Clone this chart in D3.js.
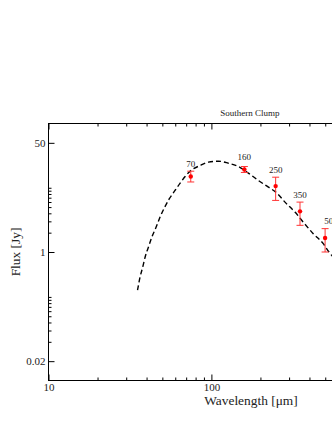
<!DOCTYPE html>
<meta charset="utf-8">
<style>

body {
  margin: 0;
  background: #fff;
}

svg {
  display: block;
  font-family: "Liberation Serif", "DejaVu Serif", serif;
}

svg text {
  fill: #222;
}

.model {
  fill: none;
  stroke: #000;
  stroke-width: 1.4px;
  stroke-dasharray: 5,3;
}

.errbar line {
  stroke: #f33;
  stroke-width: 1px;
}

</style>
<svg width="332" height="430"></svg>
<script src="https://d3js.org/d3.v7.min.js"></script>
<script>

// photometry (Jy)
var bands = [70, 160, 250, 350, 500];
var bandWavelength = [74.7, 159.4, 248, 350, 499];
var bandFlux = [15.0, 19.2, 10.6, 4.29, 1.65];
var fluxHigh = [18.1, 21.4, 14.6, 5.98, 2.31];
var fluxLow = [12.3, 17.3, 6.35, 2.6, 1.0];

// dashed greybody fit, sampled along the drawn curve
var modelWavelength = [35.2, 36.5, 37.9, 39.2, 41.1, 43.1, 45.8, 48.4, 51.5, 55.2, 59.8, 64.3, 69.0, 74.0, 85.3, 95.9, 110.4, 127, 146.5, 168.7, 194, 224, 252, 283, 326, 366, 422, 486, 527, 580];
var modelFlux = [0.254, 0.409, 0.585, 0.836, 1.20, 1.71, 2.44, 3.50, 4.89, 6.75, 9.08, 11.8, 15.0, 18.1, 22.2, 25.0, 25.9, 24.1, 21.4, 16.9, 13.0, 10.2, 8.3, 5.97, 4.18, 2.92, 1.93, 1.35, 1.0, 0.75];

// axis ticks
var xMajorTicks = [10, 100, 1000];
var xMinorTicks = [20, 30, 40, 50, 60, 70, 80, 90, 200, 300, 400, 500, 600, 700, 800, 900, 2000, 3000];
var yMajorTicks = [0.02, 1, 50];
var yMinorTicks = [0.04, 0.06, 0.08, 0.1, 0.12, 0.14, 0.16, 0.18, 0.2, 2, 3, 4, 5, 6, 7, 8, 9, 10];

var svg = d3.select("svg"),
    width = +svg.attr("width"),
    plotLeft = 48.5,
    plotRight = 452,
    plotTop = 123.5,
    plotBottom = 380.5;

var x = d3.scaleLog()
    .domain([10, 3000])
    .range([plotLeft, plotRight]);

var y = d3.scaleLog()
    .domain([0.01, 100])
    .range([plotBottom, plotTop]);

// only label ticks that fall inside the visible window
var fmtX = function(d) { return x(d) < width ? String(d) : ""; };
var fmtY = function(d) { return String(d); };

// minor ticks
svg.append("g")
    .attr("transform", "translate(0," + plotBottom + ")")
    .call(d3.axisBottom(x).tickValues(xMinorTicks).tickSize(-3).tickSizeOuter(0).tickFormat(""));
svg.append("g")
    .attr("transform", "translate(0," + plotTop + ")")
    .call(d3.axisTop(x).tickValues(xMinorTicks).tickSize(-3).tickSizeOuter(0).tickFormat(""));
svg.append("g")
    .attr("transform", "translate(" + plotLeft + ",0)")
    .call(d3.axisLeft(y).tickValues(yMinorTicks).tickSize(-3).tickSizeOuter(0).tickFormat(""));
svg.append("g")
    .attr("transform", "translate(" + plotRight + ",0)")
    .call(d3.axisRight(y).tickValues(yMinorTicks).tickSize(-3).tickSizeOuter(0).tickFormat(""));

// major ticks
svg.append("g")
    .attr("transform", "translate(0," + plotBottom + ")")
    .call(d3.axisBottom(x).tickValues(xMajorTicks).tickSize(-6).tickSizeOuter(0).tickPadding(3).tickFormat(fmtX));
svg.append("g")
    .attr("transform", "translate(0," + plotTop + ")")
    .call(d3.axisTop(x).tickValues(xMajorTicks).tickSize(-6).tickSizeOuter(0).tickFormat(""));
svg.append("g")
    .attr("transform", "translate(" + plotLeft + ",0)")
    .call(d3.axisLeft(y).tickValues(yMajorTicks).tickSize(-6).tickSizeOuter(0).tickPadding(3).tickFormat(fmtY));
svg.append("g")
    .attr("transform", "translate(" + plotRight + ",0)")
    .call(d3.axisRight(y).tickValues(yMajorTicks).tickSize(-6).tickSizeOuter(0).tickFormat(""));

svg.selectAll(".domain").remove();
svg.selectAll(".tick text")
    .filter(function() { return this.textContent === ""; })
    .remove();
svg.selectAll(".tick text")
    .attr("font-family", "Liberation Serif")
    .attr("font-size", 11);

// frame
svg.append("rect")
    .attr("x", plotLeft)
    .attr("y", plotTop)
    .attr("width", plotRight - plotLeft)
    .attr("height", plotBottom - plotTop)
    .attr("fill", "none")
    .attr("stroke", "#000")
    .attr("stroke-width", 1);

// model curve
var line = d3.line()
    .x(function(d, i) { return x(modelWavelength[i]); })
    .y(function(d) { return y(d); })
    .curve(d3.curveMonotoneX);

svg.append("path")
    .attr("class", "model")
    .attr("d", line(modelFlux));

// photometry with error bars
var pts = bands.map(function(b, i) {
  return {band: b, wl: bandWavelength[i], f: bandFlux[i], hi: fluxHigh[i], lo: fluxLow[i]};
});

var pt = svg.append("g")
  .selectAll("g")
  .data(pts)
  .enter().append("g")
    .attr("class", "errbar");

pt.append("line")
    .attr("x1", function(d) { return x(d.wl); })
    .attr("x2", function(d) { return x(d.wl); })
    .attr("y1", function(d) { return y(d.lo); })
    .attr("y2", function(d) { return y(d.hi); });

pt.selectAll(".cap")
  .data(function(d) { return [{wl: d.wl, v: d.lo}, {wl: d.wl, v: d.hi}]; })
  .enter().append("line")
    .attr("class", "cap")
    .attr("x1", function(d) { return x(d.wl) - 3.5; })
    .attr("x2", function(d) { return x(d.wl) + 3.5; })
    .attr("y1", function(d) { return y(d.v); })
    .attr("y2", function(d) { return y(d.v); });

pt.append("circle")
    .attr("cx", function(d) { return x(d.wl); })
    .attr("cy", function(d) { return y(d.f); })
    .attr("r", 2.2)
    .attr("fill", "#f00");

pt.append("text")
    .attr("x", function(d) { return x(d.wl) + (d.band === 500 ? 6 : 0); })
    .attr("y", function(d) { return y(d.hi) - (d.band === 160 ? 7 : 4.5); })
    .attr("text-anchor", "middle")
    .attr("font-size", 9)
    .text(function(d) { return d.band; });

// titles
svg.append("text")
    .attr("x", 250)
    .attr("y", 116)
    .attr("text-anchor", "middle")
    .attr("font-size", 9)
    .text("Southern Clump");

svg.append("text")
    .attr("x", 251)
    .attr("y", 405)
    .attr("text-anchor", "middle")
    .attr("font-size", 13.4)
    .text("Wavelength [μm]");

svg.append("text")
    .attr("transform", "translate(20," + (plotTop + plotBottom) / 2 + ") rotate(-90)")
    .attr("text-anchor", "middle")
    .attr("font-size", 13.4)
    .text("Flux [Jy]");

</script>
